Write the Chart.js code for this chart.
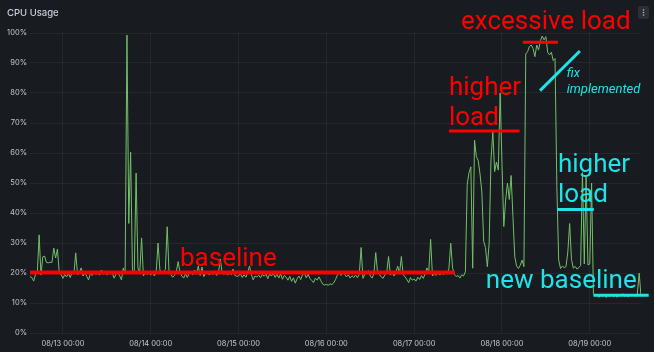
<!DOCTYPE html>
<html>
<head>
<meta charset="utf-8">
<script src="https://cdn.jsdelivr.net/npm/chart.js@4.4.0/dist/chart.umd.min.js"></script>
<style>
    html, body { margin: 0; padding: 0; background: #181b1f; }
    #chart-div { width: 654px; height: 352px; position: relative; }
</style>
</head>
<body>
<div id="chart-div">
    <canvas id="chart" width="654" height="352"></canvas>
</div>
<script>
// x axis = hours from 08/13 00:00, one sample every 30 min from 08/12 15:00
const START_HOUR = -9;
const STEP_HOURS = 0.5;
const END_HOUR = 158;

// CPU usage in %, one array per day
const day12 = [18.8, 18.5, 17.3, 19.5, 20, 32.7, 19.3, 25.4, 25.6, 23.5, 23.4, 23.6, 23.5, 28.3, 25, 28, 20, 19.5];
const day13 = [18.2, 19.5, 18.7, 19.8, 18.5, 20.2, 19.6, 26.7, 19.4, 20.3, 21.7, 19, 20.1, 18.9, 17.7, 19.8,
               19.2, 20.3, 19.5, 20.1, 19.3, 21, 19.6, 20.2, 19.4, 20, 19.7, 19.9, 18.3, 19.6, 20.2, 19.1,
               17.7, 21.7, 19.8, 99.3, 36.5, 60.3, 21, 20.3, 53.3, 21.7, 20, 31.7, 19, 20.2, 19.5, 20.4];
const day14 = [19.3, 20.4, 19, 20.5, 30, 21, 19.8, 20.5, 21.2, 35.4, 20.3, 19.5, 18.6, 19.2, 20.6, 23.8,
               20.1, 19, 18.3, 19.7, 18.5, 19.9, 20.5, 19.4, 21, 19.6, 22.3, 19.2, 22, 18.8, 19.9, 20.6,
               19.3, 20.1, 19.5, 20.4, 19.2, 20, 24.7, 20.2, 19.5, 20.4, 19.3, 20.1, 19.4, 21.3, 19.2, 18.9];
const day15 = [19, 19.8, 18.5, 19.4, 18.6, 20.2, 22.3, 19.5, 17.7, 19, 18.7, 19.3, 18.4, 19.5, 18.9, 19.6,
               18.1, 19.7, 19, 20, 18.5, 19.6, 18.3, 19.8, 17.9, 19.2, 18.6, 17.6, 18.9, 17.2, 18.4, 16.6,
               18.1, 19, 17.8, 19.5, 20, 18.4, 19.6, 18.2, 17.5, 16.8, 18.3, 17.6, 18.7, 17.4, 16.3, 16];
const day16 = [16.2, 15.9, 16.4, 16.1, 16.7, 17.8, 19.3, 20.1, 19.2, 20.3, 19.6, 18.7, 19.4, 18.3, 19.1, 18.5,
               19.3, 18.4, 19.6, 28.5, 18.2, 19.5, 20.2, 20.8, 19, 18.3, 19.8, 26.8, 20.1, 19.5, 18.7, 18.2,
               19.4, 20, 25.5, 19.3, 20.2, 19, 20.3, 22.3, 19.8, 25.5, 19.4, 18.8, 17.8, 16.8, 18.5, 17.6];
const day17 = [18, 17.3, 18.6, 17.8, 19.1, 18.2, 19.7, 21.7, 20.5, 31.2, 19, 19.8, 19.2, 20.1, 19.3, 20,
               19.5, 20.2, 19.6, 21.5, 29.9, 21.7, 19.5, 18.8, 19.2, 18.3, 19.4, 19, 20.4, 49.5, 53.5, 55.4,
               21.6, 64.3, 58.8, 57.5, 53, 47, 30.5, 28.5, 22.1, 30, 57.7, 67, 53.8, 57, 54.3, 80];
const day18 = [56.5, 35.5, 44.3, 50, 44.5, 52.5, 38.8, 25.4, 22.3, 21.5, 22.6, 24.3, 22.1, 93, 93.8, 95.5,
               96, 94.8, 92.1, 96, 94.3, 97.4, 99, 97.7, 98.8, 93.5, 92.7, 93.6, 90.8, 91.5, 48.8, 24.3,
               21.5, 22.3, 21.8, 22.1, 27, 36.5, 24.5, 21.6, 22.2, 21.3, 21.8, 22.5, 53.5, 23, 52, 22.7];
const day19 = [23, 50, 13.2, 12.3, 12.8, 11.9, 12.6, 12.1, 12.9, 11.8, 12.5, 12.2, 13, 12.1, 12.6, 11.9,
               12.8, 12.3, 13.1, 12.2, 12.7, 12.1, 12.9, 12.4, 12.8, 12.2, 13, 20, 12.3];

const cpuUsage = [].concat(day12, day13, day14, day15, day16, day17, day18, day19);

const dayTicks = [0, 24, 48, 72, 96, 120, 144];
const dayLabels = ['08/13 00:00', '08/14 00:00', '08/15 00:00', '08/16 00:00', '08/17 00:00', '08/18 00:00', '08/19 00:00'];

const RED = '#ff0000';
const CYAN = '#1ee3e8';
const GRID = 'rgba(204, 204, 220, 0.07)';
const AXIS_TEXT = '#c7c7d1';

// hand drawn markup, placed in data units (hours, %)
const markLines = [
    { from: [-9, 20.2], to: [107.1, 20.2], color: RED, width: 4 },
    { from: [105.5, 67.3], to: [124.8, 67.3], color: RED, width: 3 },
    { from: [125.7, 96.9], to: [135.3, 96.9], color: RED, width: 3 },
    { from: [130.4, 80.8], to: [141.3, 94], color: CYAN, width: 3 },
    { from: [135.1, 41.2], to: [145.1, 41.2], color: CYAN, width: 3 },
    { from: [145, 12.6], to: [160.1, 12.6], color: CYAN, width: 3 }
];
const BIG = '26px Roboto';
const SMALL = 'italic 13px Roboto';
const markTexts = [
    { text: 'baseline', at: [32, 22.3], color: RED, font: BIG },
    { text: 'higher', at: [105.5, 79.3], color: RED, font: BIG },
    { text: 'load', at: [105.5, 69.3], color: RED, font: BIG },
    { text: 'excessive load', at: [108.8, 101.3], color: RED, font: BIG },
    { text: 'fix', at: [137.7, 85.2], color: CYAN, font: SMALL },
    { text: 'implemented', at: [137.7, 80.1], color: CYAN, font: SMALL },
    { text: 'higher', at: [135.3, 53.8], color: CYAN, font: BIG },
    { text: 'load', at: [135.3, 43.8], color: CYAN, font: BIG },
    { text: 'new baseline', at: [115.6, 14.9], color: CYAN, font: BIG }
];

const panelPlugin = {
    id: 'panel',
    beforeDraw(chart) {
        const ctx = chart.ctx;
        ctx.save();
        ctx.fillStyle = '#181b1f';
        ctx.fillRect(0, 0, chart.width, chart.height);
        ctx.restore();
    },
    afterDraw(chart) {
        const ctx = chart.ctx;
        ctx.save();
        ctx.fillStyle = '#ccccdc';
        ctx.font = '500 9.5px Inter';
        ctx.textBaseline = 'middle';
        ctx.fillText('CPU Usage', 7, 13);
        // panel menu button
        ctx.fillStyle = '#2c2f35';
        ctx.beginPath();
        ctx.roundRect(638, 6, 11, 13, 2);
        ctx.fill();
        ctx.fillStyle = '#b8b8c4';
        [10, 12.5, 15].forEach(function(y) {
            ctx.beginPath();
            ctx.arc(643.5, y, 0.8, 0, Math.PI * 2);
            ctx.fill();
        });
        ctx.restore();
    }
};

const markupPlugin = {
    id: 'markup',
    afterDatasetsDraw(chart) {
        const ctx = chart.ctx;
        const xs = chart.scales.x, ys = chart.scales.y;
        ctx.save();
        markLines.forEach(function(l) {
            ctx.strokeStyle = l.color;
            ctx.lineWidth = l.width;
            ctx.beginPath();
            ctx.moveTo(xs.getPixelForValue(l.from[0]), ys.getPixelForValue(l.from[1]));
            ctx.lineTo(xs.getPixelForValue(l.to[0]), ys.getPixelForValue(l.to[1]));
            ctx.stroke();
        });
        ctx.textBaseline = 'alphabetic';
        markTexts.forEach(function(t) {
            ctx.fillStyle = t.color;
            ctx.font = t.font;
            ctx.fillText(t.text, xs.getPixelForValue(t.at[0]), ys.getPixelForValue(t.at[1]));
        });
        ctx.restore();
    }
};

const ctx = document.getElementById('chart').getContext('2d');
new Chart(ctx, {
    type: 'line',
    data: {
        datasets: [{
            label: 'CPU',
            data: cpuUsage.map((v, i) => ({ x: START_HOUR + i * STEP_HOURS, y: v })),
            borderColor: '#73bf69',
            borderWidth: 1,
            pointRadius: 0,
            tension: 0,
            fill: false
        }]
    },
    options: {
        responsive: false,
        animation: false,
        devicePixelRatio: 1,
        layout: { padding: { top: 33, right: 13, bottom: 0, left: 0 } },
        plugins: {
            legend: { display: false },
            tooltip: { enabled: false }
        },
        scales: {
            x: {
                type: 'linear',
                min: START_HOUR,
                max: END_HOUR,
                afterBuildTicks(scale) {
                    scale.ticks = dayTicks.map(v => ({ value: v }));
                },
                afterFit(scale) { scale.height = 19; },
                grid: { color: GRID, drawTicks: false },
                border: { display: false },
                ticks: {
                    autoSkip: false,
                    maxRotation: 0,
                    padding: 6,
                    color: AXIS_TEXT,
                    font: { family: 'Inter', size: 7.5 },
                    callback: (v) => dayLabels[dayTicks.indexOf(v)]
                }
            },
            y: {
                min: 0,
                max: 100,
                afterFit(scale) { scale.width = 30; },
                grid: { color: GRID, drawTicks: false },
                border: { display: false },
                ticks: {
                    stepSize: 10,
                    padding: 3,
                    color: AXIS_TEXT,
                    font: { family: 'Inter', size: 7.5 },
                    callback: (v) => v + '%'
                }
            }
        }
    },
    plugins: [panelPlugin, markupPlugin]
});
</script>
</body>
</html>
